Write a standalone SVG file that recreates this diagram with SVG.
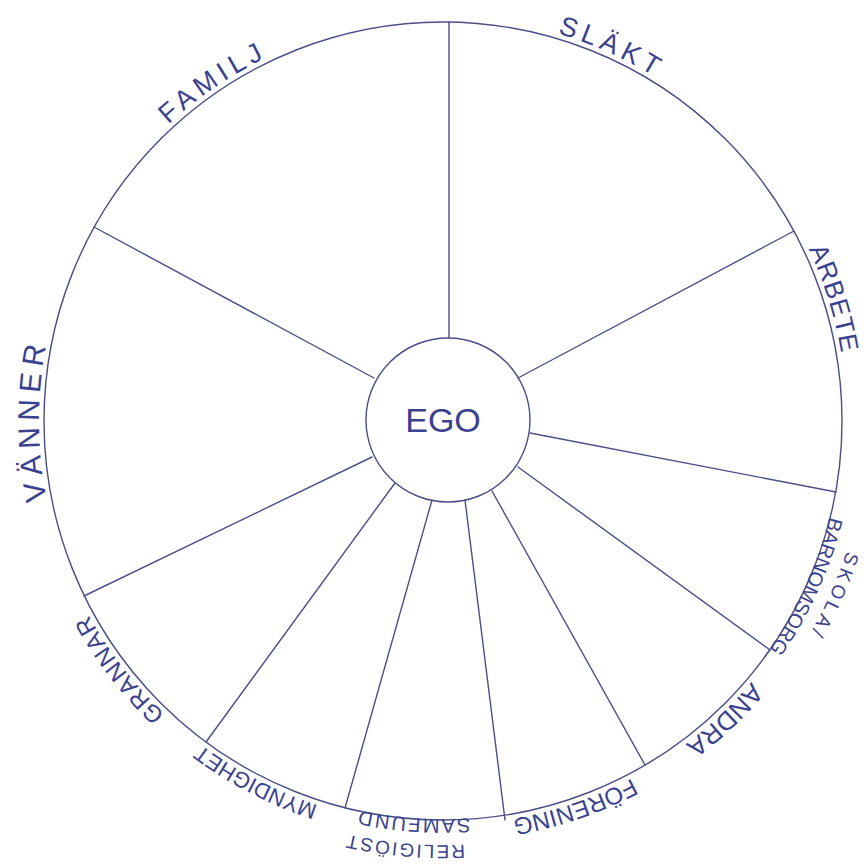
<svg xmlns="http://www.w3.org/2000/svg" xmlns:xlink="http://www.w3.org/1999/xlink" width="867" height="865" viewBox="0 0 867 865">
  <style>
    .ln { fill: none; stroke: #4a4f85; stroke-width: 1.4; stroke-linecap: round; }
    .lbl { font-family: "Liberation Sans", "DejaVu Sans", sans-serif; fill: #3a4290; text-anchor: middle; }
  </style>
  <defs>
    <path id="r404" d="M 847 421 A 404 404 0 1 1 39 421 A 404 404 0 1 1 847 421"/>
    <path id="r398" d="M 841 421 A 398 398 0 1 1 45 421 A 398 398 0 1 1 841 421"/>
    <path id="r424" d="M 867 421 A 424 424 0 1 1 19 421 A 424 424 0 1 1 867 421"/>
  </defs>
  <rect width="867" height="865" fill="#ffffff"/>

  <g id="outer-circle">
    <circle class="ln" cx="443" cy="421" r="399"/>
  </g>

  <g id="connectors">
    <line class="ln" x1="449" y1="338" x2="449" y2="22"/>
    <line class="ln" x1="518" y1="378" x2="794" y2="231"/>
    <line class="ln" x1="530" y1="433" x2="836" y2="492"/>
    <line class="ln" x1="518" y1="467" x2="770" y2="650"/>
    <line class="ln" x1="492" y1="491" x2="645" y2="765"/>
    <line class="ln" x1="465" y1="500" x2="505" y2="820"/>
    <line class="ln" x1="432" y1="500" x2="345" y2="808"/>
    <line class="ln" x1="395" y1="483" x2="206" y2="742"/>
    <line class="ln" x1="372" y1="457" x2="84" y2="596"/>
    <line class="ln" x1="374" y1="378" x2="94" y2="227"/>
  </g>

  <g id="ego">
    <circle class="ln" cx="448" cy="420" r="82" fill="#ffffff"/>
    <text class="lbl" x="443" y="432" font-size="34">EGO</text>
  </g>

  <g id="slakt">
    <text class="lbl" font-size="27" letter-spacing="5"><textPath xlink:href="#r404" href="#r404" startOffset="81.75%">SLÄKT</textPath></text>
  </g>
  <g id="familj">
    <text class="lbl" font-size="27" letter-spacing="5"><textPath xlink:href="#r404" href="#r404" startOffset="65.5%">FAMILJ</textPath></text>
  </g>
  <g id="arbete">
    <text class="lbl" font-size="26" letter-spacing="1"><textPath xlink:href="#r404" href="#r404" startOffset="95.17%">ARBETE</textPath></text>
  </g>
  <g id="skola">
    <text class="lbl" font-size="19" letter-spacing="4"><textPath xlink:href="#r424" href="#r424" startOffset="6.7%">SKOLA/</textPath></text>
    <text class="lbl" font-size="20"><textPath xlink:href="#r398" href="#r398" startOffset="6.8%">BARNOMSORG</textPath></text>
  </g>
  <g id="andra">
    <text class="lbl" font-size="26"><textPath xlink:href="#r404" href="#r404" startOffset="12.97%">ANDRA</textPath></text>
  </g>
  <g id="forening">
    <text class="lbl" font-size="24"><textPath xlink:href="#r404" href="#r404" startOffset="19.75%">FÖRENING</textPath></text>
  </g>
  <g id="religiost">
    <text class="lbl" font-size="19" letter-spacing="2"><textPath xlink:href="#r424" href="#r424" startOffset="26.42%">RELIGIÖST</textPath></text>
    <text class="lbl" font-size="20" letter-spacing="2"><textPath xlink:href="#r398" href="#r398" startOffset="26.17%">SAMFUND</textPath></text>
  </g>
  <g id="myndighet">
    <text class="lbl" font-size="22"><textPath xlink:href="#r404" href="#r404" startOffset="32.61%">MYNDIGHET</textPath></text>
  </g>
  <g id="grannar">
    <text class="lbl" font-size="24" letter-spacing="1"><textPath xlink:href="#r404" href="#r404" startOffset="39.58%">GRANNAR</textPath></text>
  </g>
  <g id="vanner">
    <text class="lbl" font-size="30" letter-spacing="6"><textPath xlink:href="#r404" href="#r404" startOffset="50.03%">VÄNNER</textPath></text>
  </g>
</svg>
